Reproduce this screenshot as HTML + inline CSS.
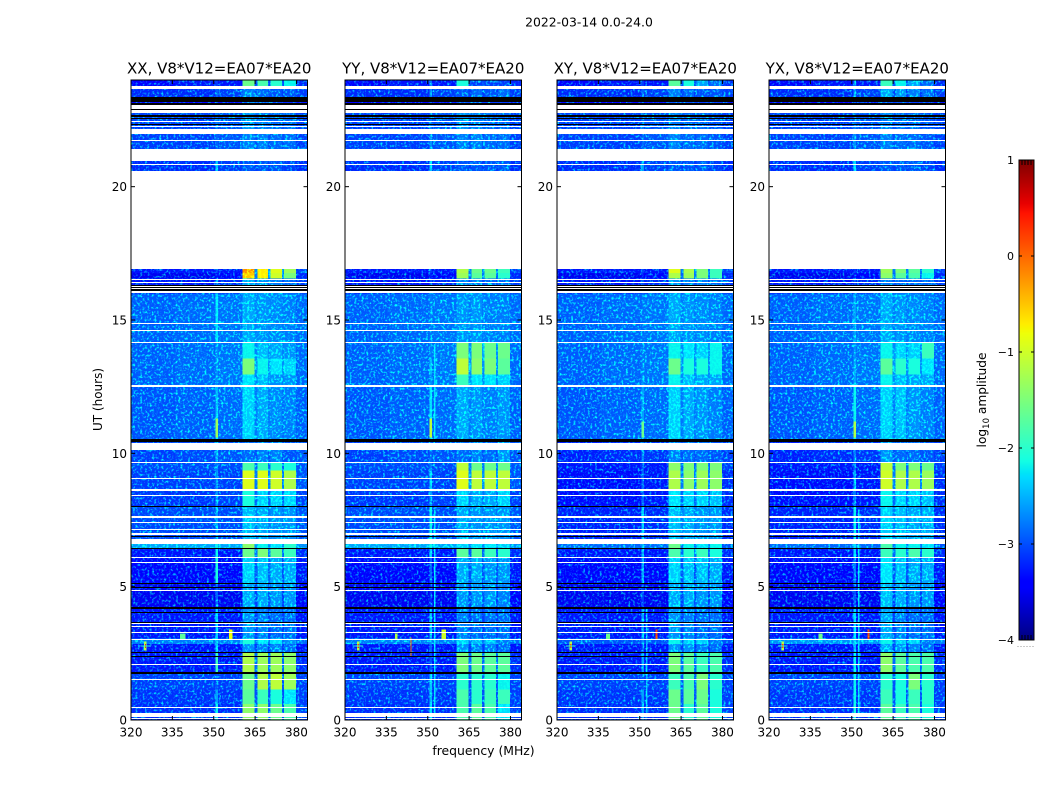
<!DOCTYPE html>
<html lang="en">
<head>
<meta charset="utf-8">
<title>2022-03-14 0.0-24.0</title>
<style>
html,body{margin:0;padding:0;background:#fff;}
svg{display:block;font-family:"DejaVu Sans","Liberation Sans",sans-serif;fill:#000;}
</style>
</head>
<body>
<svg id="figure" width="1050" height="800" viewBox="0 0 1050 800" xmlns="http://www.w3.org/2000/svg">
<defs>
<filter id="speckle" x="0" y="0" width="100%" height="100%" color-interpolation-filters="sRGB">
<feTurbulence type="fractalNoise" baseFrequency="0.42" numOctaves="2" seed="4" result="n"/>
<feColorMatrix in="n" type="matrix" values="0 0 0 0 0  2.4 0 0 0 -1.2  0 0 0 0 0  0 0 0 0 1" result="g"/>
<feComposite in="SourceGraphic" in2="g" operator="arithmetic" k1="0" k2="1" k3="1" k4="0"/>
</filter>
</defs>
<rect x="0" y="0" width="1050" height="800" fill="#fff"/>
<text x="589" y="26.5" font-size="12.4" text-anchor="middle">2022-03-14 0.0-24.0</text>
<text transform="translate(102,399.5) rotate(-90)" font-size="12" text-anchor="middle">UT (hours)</text>
<text x="483.5" y="755" font-size="12.4" text-anchor="middle">frequency (MHz)</text>
<g id="panels"></g>
<g id="colorbar"></g>
<text transform="translate(986,400) rotate(-90)" font-size="12.2" text-anchor="middle">log<tspan font-size="8.5" dy="3">10</tspan><tspan dy="-3"> amplitude</tspan></text>
</svg>
<script>
// ---- chart data ----
const panelNames = ['XX', 'YY', 'XY', 'YX'];
const baselineLabel = 'V8*V12=EA07*EA20';
const xTicks = [320, 335, 350, 365, 380];
const yTicks = [0, 5, 10, 15, 20];
const colorTicks = [-4, -3, -2, -1, 0, 1];
// channel-group edges (MHz)
const chanEdges = [320, 336, 350.6, 351.6, 360.4, 364.7, 365.8, 369.7, 370.5, 374.8, 375.5, 379.8, 384];
// time-block edges (hours)
const timeEdges = [24, 23.72, 23.22, 22.9, 22.05, 21.2, 20.0, 16.76, 16.55, 16.0, 14.15, 13.55, 12.95, 12.5, 10.5, 9.65, 9.35, 8.6, 8.0, 6.79, 6.44, 6.09, 5.12, 4.2, 3.05, 2.85, 2.52, 1.78, 1.15, 0.6, 0];
// log10 amplitude, one row per time block, one value per channel group
const levelsXX = [
[-3.4,-3.3,-3.1,-3.3,-1.6,-3.0,-1.8,-3.0,-2.0,-3.0,-2.2,-3.2],
[-3.2,-3.2,-2.9,-3.1,-2.8,-3.0,-2.9,-3.0,-3.0,-3.1,-3.0,-3.1],
[-3.4,-3.4,-3.0,-3.3,-3.0,-3.1,-3.0,-3.1,-3.1,-3.2,-3.2,-3.3],
[-3.1,-3.1,-2.8,-3.0,-2.7,-2.9,-2.8,-2.9,-2.9,-3.0,-2.9,-3.1],
[-3.1,-3.1,-2.9,-3.0,-2.8,-3.0,-2.8,-3.0,-2.9,-3.0,-2.9,-3.1],
[-3.2,-3.2,-2.4,-3.1,-3.0,-3.1,-3.0,-3.1,-3.0,-3.1,-3.1,-3.2],
[-3.3,-3.3,-3.1,-3.3,-0.2,-2.7,-0.7,-2.6,-0.9,-2.7,-1.3,-3.1],
[-3.5,-3.5,-3.3,-3.4,-0.5,-2.8,-0.7,-2.7,-1.0,-2.8,-1.5,-3.2],
[-3.3,-3.3,-2.9,-3.2,-2.6,-2.9,-2.7,-2.9,-2.8,-3.0,-2.9,-3.1],
[-2.95,-2.9,-2.3,-2.85,-2.6,-2.75,-2.7,-2.75,-2.75,-2.8,-2.8,-2.9],
[-2.95,-2.9,-2.7,-2.85,-2.2,-2.75,-2.5,-2.7,-2.6,-2.75,-2.7,-2.9],
[-2.95,-2.9,-2.7,-2.85,-1.5,-2.7,-2.2,-2.7,-2.3,-2.7,-2.4,-2.9],
[-2.95,-2.9,-2.7,-2.85,-2.3,-2.75,-2.5,-2.7,-2.7,-2.75,-2.7,-2.9],
[-3.0,-2.95,-2.5,-2.9,-2.4,-2.8,-2.6,-2.8,-2.75,-2.85,-2.8,-2.95],
[-3.1,-3.05,-2.6,-3.0,-2.9,-3.0,-2.8,-3.0,-2.8,-3.0,-3.0,-3.0],
[-3.05,-3.05,-2.8,-3.05,-1.8,-2.9,-1.9,-2.9,-2.0,-2.9,-2.1,-3.0],
[-3.1,-3.1,-2.7,-3.1,-0.9,-2.8,-0.9,-2.8,-1.0,-2.8,-1.2,-3.0],
[-3.15,-3.15,-2.7,-3.1,-2.1,-2.9,-2.4,-2.9,-2.4,-2.9,-2.4,-3.1],
[-3.05,-3.05,-2.6,-3.05,-2.5,-2.8,-2.6,-2.8,-2.7,-2.8,-2.7,-3.0],
[-2.6,-2.6,-2.2,-2.6,-1.4,-2.7,-2.2,-2.7,-2.3,-2.7,-2.0,-2.7],
[-3.3,-3.3,-2.2,-3.3,-1.6,-2.9,-1.5,-2.8,-1.7,-2.9,-1.9,-3.2],
[-3.4,-3.4,-2.1,-3.4,-2.4,-3.0,-2.5,-2.9,-2.6,-3.0,-2.6,-3.3],
[-3.5,-3.5,-2.9,-3.5,-2.6,-3.1,-2.6,-3.0,-2.7,-3.1,-2.7,-3.4],
[-3.3,-3.3,-2.4,-3.3,-2.7,-3.1,-2.8,-3.1,-2.9,-3.1,-2.9,-3.3],
[-2.8,-2.8,-2.5,-2.8,-2.1,-2.8,-2.3,-2.8,-2.3,-2.8,-2.7,-2.9],
[-3.3,-3.3,-2.4,-3.3,-2.7,-3.1,-2.8,-3.1,-2.8,-3.1,-2.9,-3.3],
[-3.3,-3.3,-1.9,-3.3,-1.2,-2.9,-1.3,-2.9,-1.3,-2.9,-1.4,-3.2],
[-3.1,-3.1,-3.0,-3.1,-1.6,-3.0,-1.2,-2.9,-1.1,-3.0,-1.3,-3.1],
[-3.15,-3.15,-2.6,-3.15,-1.7,-3.0,-1.9,-3.0,-2.1,-3.0,-2.3,-3.1],
[-3.2,-3.2,-2.2,-3.2,-1.4,-3.0,-1.4,-3.0,-1.6,-3.0,-1.8,-3.1]
];
const levelsYY = [
[-3.4,-3.3,-2.8,-3.3,-2.1,-3.0,-3.1,-3.0,-3.1,-3.1,-3.1,-3.2],
[-3.2,-3.2,-2.7,-3.1,-3.0,-3.1,-2.9,-3.1,-3.0,-3.1,-2.9,-3.1],
[-3.4,-3.4,-2.9,-3.3,-3.0,-3.1,-3.0,-3.1,-3.1,-3.1,-3.1,-3.3],
[-3.1,-3.1,-2.8,-3.0,-2.7,-2.9,-2.8,-2.9,-2.9,-3.0,-2.9,-3.1],
[-3.1,-3.1,-2.7,-3.0,-2.8,-3.0,-2.8,-3.0,-2.9,-3.0,-2.9,-3.1],
[-3.2,-3.2,-2.4,-3.1,-3.0,-3.1,-3.0,-3.1,-3.0,-3.1,-3.0,-3.2],
[-3.3,-3.3,-3.1,-3.3,-1.2,-2.8,-1.6,-2.8,-1.6,-2.8,-1.9,-3.1],
[-3.5,-3.5,-3.3,-3.4,-1.3,-2.9,-1.7,-2.8,-1.7,-2.9,-2.0,-3.2],
[-3.3,-3.3,-3.0,-3.2,-2.8,-3.0,-2.8,-3.0,-2.9,-3.0,-2.9,-3.1],
[-2.95,-2.9,-2.8,-2.85,-2.7,-2.8,-2.7,-2.8,-2.8,-2.8,-2.8,-2.9],
[-2.95,-2.9,-2.8,-2.85,-1.5,-2.7,-1.5,-2.6,-1.6,-2.7,-1.6,-2.9],
[-2.95,-2.9,-2.5,-2.85,-1.1,-2.7,-1.4,-2.7,-1.5,-2.7,-1.7,-2.9],
[-2.95,-2.9,-2.7,-2.85,-1.9,-2.7,-2.3,-2.7,-2.3,-2.7,-2.4,-2.9],
[-3.0,-2.95,-2.3,-2.9,-2.6,-2.8,-2.7,-2.8,-2.8,-2.8,-2.7,-2.95],
[-3.1,-3.05,-2.9,-3.0,-2.9,-3.0,-2.8,-3.0,-2.9,-3.0,-2.7,-3.0],
[-3.05,-3.05,-2.8,-3.05,-1.1,-2.8,-1.6,-2.8,-1.6,-2.8,-1.6,-3.0],
[-3.1,-3.1,-2.4,-3.1,-0.9,-2.7,-1.1,-2.7,-1.1,-2.7,-1.1,-3.0],
[-3.15,-3.15,-2.7,-3.1,-2.4,-2.8,-2.6,-2.8,-2.6,-2.8,-2.4,-3.1],
[-3.05,-3.05,-2.2,-3.05,-2.6,-2.8,-2.7,-2.8,-2.7,-2.8,-2.7,-3.0],
[-2.6,-2.6,-2.2,-2.6,-2.4,-2.7,-2.3,-2.7,-2.3,-2.7,-2.4,-2.7],
[-3.3,-3.3,-2.4,-3.3,-1.7,-3.0,-1.7,-2.9,-1.9,-3.0,-2.0,-3.2],
[-3.4,-3.4,-2.9,-3.4,-2.6,-3.0,-2.6,-3.0,-2.7,-3.0,-2.7,-3.3],
[-3.5,-3.5,-3.2,-3.5,-2.7,-3.1,-2.7,-3.0,-2.7,-3.1,-2.8,-3.4],
[-3.3,-3.3,-2.5,-3.3,-2.8,-3.1,-2.9,-3.1,-2.9,-3.1,-2.9,-3.3],
[-2.8,-2.8,-2.7,-2.8,-2.4,-2.8,-2.5,-2.8,-2.5,-2.8,-2.8,-2.9],
[-3.3,-3.3,-2.9,-3.3,-2.7,-3.1,-2.8,-3.1,-2.8,-3.1,-2.9,-3.3],
[-3.3,-3.3,-3.0,-3.3,-1.5,-2.9,-1.6,-2.9,-1.7,-2.9,-1.7,-3.2],
[-3.1,-3.1,-2.4,-3.1,-2.0,-3.0,-2.0,-2.9,-2.0,-3.0,-2.2,-3.1],
[-3.15,-3.15,-2.5,-3.15,-1.8,-3.0,-2.0,-3.0,-1.9,-3.0,-1.9,-3.1],
[-3.2,-3.2,-2.3,-3.2,-1.8,-3.0,-1.7,-3.0,-1.8,-3.0,-2.3,-3.1]
];
const levelsXY = [
[-3.4,-3.3,-3.1,-3.3,-1.7,-3.0,-2.1,-3.0,-2.6,-3.0,-2.9,-3.2],
[-3.2,-3.2,-2.9,-3.1,-2.8,-3.1,-2.9,-3.1,-3.0,-3.1,-3.0,-3.1],
[-3.4,-3.4,-2.9,-3.3,-3.0,-3.1,-3.0,-3.1,-3.1,-3.1,-3.1,-3.3],
[-3.1,-3.1,-2.8,-3.0,-2.8,-3.0,-2.9,-3.0,-2.9,-3.0,-3.0,-3.1],
[-3.1,-3.1,-2.9,-3.0,-2.8,-3.0,-2.9,-3.0,-2.9,-3.0,-3.0,-3.1],
[-3.2,-3.2,-2.6,-3.1,-3.0,-3.1,-3.0,-3.1,-3.0,-3.1,-3.1,-3.2],
[-3.3,-3.3,-3.1,-3.3,-0.9,-2.8,-1.2,-2.8,-1.5,-2.8,-1.9,-3.1],
[-3.5,-3.5,-3.3,-3.4,-1.2,-2.9,-1.3,-2.8,-1.5,-2.9,-1.9,-3.2],
[-3.3,-3.3,-3.0,-3.2,-2.7,-3.0,-2.8,-3.0,-2.8,-3.0,-2.9,-3.1],
[-2.95,-2.9,-2.85,-2.85,-2.6,-2.8,-2.7,-2.8,-2.75,-2.8,-2.8,-2.9],
[-2.95,-2.9,-2.8,-2.85,-2.2,-2.7,-2.3,-2.7,-2.4,-2.7,-2.2,-2.9],
[-2.95,-2.9,-2.8,-2.85,-1.6,-2.7,-2.1,-2.7,-2.1,-2.7,-2.2,-2.9],
[-2.95,-2.9,-2.7,-2.85,-2.2,-2.7,-2.5,-2.7,-2.6,-2.7,-2.6,-2.9],
[-3.0,-2.95,-2.6,-2.9,-2.4,-2.8,-2.6,-2.8,-2.7,-2.8,-2.8,-2.95],
[-3.25,-3.2,-2.8,-3.15,-2.8,-3.0,-2.9,-3.0,-2.9,-3.0,-3.0,-3.1],
[-3.3,-3.3,-3.0,-3.3,-1.4,-2.9,-1.5,-2.9,-1.5,-2.9,-1.5,-3.1],
[-3.35,-3.35,-2.9,-3.3,-1.2,-2.8,-1.4,-2.8,-1.3,-2.8,-1.4,-3.2],
[-3.35,-3.35,-2.9,-3.3,-2.3,-2.9,-2.4,-2.9,-2.4,-2.9,-2.5,-3.2],
[-3.25,-3.25,-2.4,-3.2,-2.5,-2.8,-2.6,-2.8,-2.7,-2.8,-2.7,-3.2],
[-2.9,-2.9,-2.5,-2.9,-1.6,-2.8,-2.2,-2.8,-2.3,-2.8,-2.2,-3.0],
[-3.3,-3.3,-2.6,-3.3,-1.8,-2.9,-2.0,-2.8,-1.9,-2.9,-2.1,-3.2],
[-3.4,-3.4,-2.6,-3.4,-2.4,-3.0,-2.5,-3.0,-2.5,-3.0,-2.6,-3.3],
[-3.5,-3.5,-3.1,-3.5,-2.6,-3.1,-2.6,-3.0,-2.7,-3.1,-2.7,-3.4],
[-3.3,-3.3,-2.6,-3.3,-2.7,-3.1,-2.8,-3.1,-2.9,-3.1,-2.9,-3.3],
[-3.0,-3.0,-2.7,-3.0,-2.2,-2.9,-2.4,-2.9,-2.4,-2.9,-2.8,-3.0],
[-3.3,-3.3,-3.0,-3.3,-2.7,-3.1,-2.7,-3.1,-2.8,-3.1,-2.9,-3.3],
[-3.3,-3.3,-2.6,-3.3,-1.5,-2.9,-1.7,-2.9,-1.9,-2.9,-1.8,-3.2],
[-3.1,-3.1,-3.0,-3.1,-1.9,-3.0,-1.8,-2.9,-1.5,-3.0,-2.0,-3.1],
[-3.15,-3.15,-2.6,-3.15,-1.6,-3.0,-1.7,-3.0,-1.6,-3.0,-2.1,-3.1],
[-3.2,-3.2,-2.6,-3.2,-1.6,-3.0,-2.0,-3.0,-1.7,-3.0,-2.1,-3.1]
];
const levelsYX = [
[-3.4,-3.3,-2.8,-3.3,-1.9,-3.0,-2.2,-3.0,-2.6,-3.0,-2.9,-3.2],
[-3.2,-3.2,-2.7,-3.1,-2.6,-3.1,-2.7,-3.1,-2.8,-3.1,-2.9,-3.1],
[-3.4,-3.4,-2.9,-3.3,-3.0,-3.1,-3.0,-3.1,-3.1,-3.1,-3.1,-3.3],
[-3.1,-3.1,-2.8,-3.0,-2.8,-3.0,-2.9,-3.0,-2.9,-3.0,-3.0,-3.1],
[-3.1,-3.1,-2.7,-3.0,-2.8,-3.0,-2.9,-3.0,-2.9,-3.0,-3.0,-3.1],
[-3.2,-3.2,-2.3,-3.1,-3.0,-3.1,-3.0,-3.1,-3.0,-3.1,-3.1,-3.2],
[-3.3,-3.3,-3.1,-3.3,-1.3,-2.8,-1.5,-2.8,-1.7,-2.8,-2.0,-3.1],
[-3.5,-3.5,-3.3,-3.4,-1.4,-2.9,-1.7,-2.8,-1.8,-2.9,-2.2,-3.2],
[-3.3,-3.3,-3.0,-3.2,-2.8,-3.0,-2.9,-3.0,-2.9,-3.0,-2.9,-3.1],
[-2.95,-2.9,-2.6,-2.85,-2.6,-2.8,-2.7,-2.8,-2.75,-2.8,-2.8,-2.9],
[-2.95,-2.9,-2.7,-2.85,-2.2,-2.7,-2.4,-2.7,-2.4,-2.7,-1.9,-2.9],
[-2.95,-2.9,-2.6,-2.85,-1.7,-2.7,-2.0,-2.7,-2.1,-2.7,-2.3,-2.9],
[-2.95,-2.9,-2.6,-2.85,-2.2,-2.7,-2.5,-2.7,-2.6,-2.7,-2.6,-2.9],
[-3.0,-2.95,-2.2,-2.9,-2.4,-2.8,-2.5,-2.8,-2.7,-2.8,-2.8,-2.95],
[-3.25,-3.2,-2.8,-3.15,-2.7,-3.0,-2.9,-3.0,-2.9,-3.0,-3.0,-3.1],
[-3.3,-3.3,-2.9,-3.3,-1.1,-2.9,-1.5,-2.9,-1.5,-2.9,-1.6,-3.1],
[-3.35,-3.35,-2.6,-3.3,-1.0,-2.8,-1.2,-2.8,-1.2,-2.8,-1.3,-3.2],
[-3.35,-3.35,-2.8,-3.3,-2.2,-2.9,-2.4,-2.9,-2.4,-2.9,-2.5,-3.2],
[-3.25,-3.25,-2.2,-3.2,-2.4,-2.8,-2.5,-2.8,-2.6,-2.8,-2.6,-3.2],
[-2.9,-2.9,-2.3,-2.9,-1.8,-2.8,-2.2,-2.8,-2.2,-2.8,-2.3,-3.0],
[-3.3,-3.3,-2.3,-3.3,-1.9,-2.9,-2.0,-2.8,-1.8,-2.9,-2.0,-3.2],
[-3.4,-3.4,-2.8,-3.4,-2.3,-3.0,-2.5,-3.0,-2.6,-3.0,-2.6,-3.3],
[-3.5,-3.5,-3.0,-3.5,-2.5,-3.1,-2.6,-3.0,-2.7,-3.1,-2.7,-3.4],
[-3.3,-3.3,-2.3,-3.3,-2.6,-3.1,-2.8,-3.1,-2.9,-3.1,-2.9,-3.3],
[-2.7,-2.7,-2.4,-2.7,-2.2,-2.9,-2.4,-2.9,-2.4,-2.9,-2.8,-2.8],
[-3.3,-3.3,-2.5,-3.3,-2.6,-3.1,-2.7,-3.1,-2.8,-3.1,-2.9,-3.3],
[-3.3,-3.3,-2.2,-3.3,-1.4,-2.9,-1.7,-2.9,-1.8,-2.9,-1.8,-3.2],
[-3.1,-3.1,-2.2,-3.1,-2.0,-3.0,-2.1,-2.9,-1.5,-3.0,-2.0,-3.1],
[-3.15,-3.15,-2.2,-3.15,-1.9,-3.0,-2.1,-3.0,-1.9,-3.0,-2.0,-3.1],
[-3.2,-3.2,-2.1,-3.2,-1.7,-3.0,-1.9,-3.0,-1.8,-3.0,-2.1,-3.1]
];
const panelLevels = [levelsXX, levelsYY, levelsXY, levelsYX];
// narrow interference features: [fStart, fEnd, tTop, tBottom, log10 amplitude]
const featuresXX = [[324.7,325.7,2.95,2.6,-1.2],[325,325.4,2.85,2.7,0.3],[323.5,327,2.79,2.75,-2],[337.7,339.8,3.25,3.03,-1.7],[355.6,356.8,3.4,3.03,-0.8],[350.6,351.6,11.3,10.6,-1.3]];
const featuresYY = [[324.3,325.3,2.95,2.6,-1.2],[324.6,325,2.85,2.7,0.3],[323,326.5,2.79,2.75,-2],[338.1,339,3.25,3.03,-1.2],[343.8,344.2,3.1,2.4,0],[355,356.6,3.4,3.03,-1],[350.6,351.6,11.3,10.6,-1.1],[352.2,352.8,14.1,10.5,-2.3],[352.2,352.8,7.9,0.1,-2.3]];
const featuresXY = [[324.5,325.5,2.95,2.6,-1.2],[324.8,325.2,2.85,2.7,0.3],[323.2,326.7,2.79,2.75,-2],[337.8,339.2,3.25,3.03,-1.6],[355.8,356.5,3.4,3.03,0.2],[350.6,351.6,11.2,10.6,-1.6],[352.2,352.8,4.2,0.1,-2.5]];
const featuresYX = [[324.5,325.5,2.95,2.6,-1.2],[324.8,325.2,2.85,2.7,0.3],[323.2,326.7,2.79,2.75,-2],[338,339.4,3.25,3.03,-1.6],[355.8,356.5,3.4,3.03,0.2],[350.6,351.6,11.2,10.6,-1.2],[352.2,352.8,7.9,0.1,-2.3]];
const panelFeatures = [featuresXX, featuresYY, featuresXY, featuresYX];
// flagged (blank) time ranges, [top hour, bottom hour]
const blankRanges = [[23.786,23.651],[23.051,22.905],[22.875,22.763],[22.474,22.451],[22.275,22.249],[22.151,21.975],[21.75,21.701],[21.413,20.963],[20.85,20.813],[20.599,16.901],[16.549,16.5],[16.436,16.376],[16.275,16.238],[16.2,16.163],[16.088,16.013],[14.888,14.85],[14.625,14.588],[14.175,14.138],[12.581,12.551],[12.533,12.506],[10.399,10.125],[9.683,9.645],[9.083,9.045],[8.651,8.599],[8.445,8.408],[7.661,7.586],[7.433,7.395],[7.17,7.133],[6.994,6.956],[6.788,6.6],[6.113,6.075],[5.914,5.876],[4.886,4.849],[3.638,3.6],[3.51,3.473],[3.3,3.263],[3.038,3.0],[2.1,2.063],[1.538,1.5],[0.491,0.454],[0.255,0.128],[0.09,0.06]];
// zero-amplitude time ranges, [top hour, bottom hour]
const zeroRanges = [[23.374,23.224],[23.216,23.194],[23.156,23.138],[23.1,23.078],[22.905,22.875],[22.676,22.624],[22.564,22.526],[22.35,22.324],[16.324,16.275],[16.238,16.2],[16.144,16.106],[10.538,10.436],[8.033,7.995],[6.9,6.851],[6.458,6.42],[5.138,5.1],[4.988,4.95],[4.238,4.163],[4.05,4.013],[3.668,3.638],[3.533,3.51],[2.539,2.501],[2.389,2.351],[1.8,1.725]];

// ---- layout ----
const panelLeft = [131, 345, 557, 769];
const panelWidth = 176.5;
const plotTop = 80, plotBottom = 720;
const cbLeft = 1019, cbRight = 1034, cbTop = 160, cbBottom = 640;
const SVGNS = 'http://www.w3.org/2000/svg';

function make(tag, parent) {
  const el = document.createElementNS(SVGNS, tag);
  parent.appendChild(el);
  return el;
}
function interp(pts, x) {
  for (let i = 1; i < pts.length; i++) {
    if (x <= pts[i][0]) {
      const a = pts[i - 1], b = pts[i];
      return a[1] + (b[1] - a[1]) * (x - a[0]) / (b[0] - a[0]);
    }
  }
  return pts[pts.length - 1][1];
}
function jet(v) {
  const n = Math.max(0, Math.min(1, (v + 4) / 5));
  const r = interp([[0,0],[0.35,0],[0.66,1],[0.89,1],[1,0.5]], n);
  const g = interp([[0,0],[0.125,0],[0.375,1],[0.64,1],[0.91,0],[1,0]], n);
  const b = interp([[0,0.5],[0.11,1],[0.34,1],[0.65,0],[1,0]], n);
  return 'rgb(' + Math.round(r * 255) + ',' + Math.round(g * 255) + ',' + Math.round(b * 255) + ')';
}
function yScale(t) { return plotBottom - (t / 24) * (plotBottom - plotTop); }
function xScale(p, f) { return panelLeft[p] + ((f - 320) / 64) * panelWidth; }
function cbScale(v) { return cbBottom - ((v + 4) / 5) * (cbBottom - cbTop); }
function snapTop(t) { return Math.round(yScale(t)); }
function snapHeight(range) { return Math.max(1, Math.round(yScale(range[1])) - Math.round(yScale(range[0]))); }

const panelsRoot = document.getElementById('panels');
panelNames.forEach(function (pol, p) {
  const g = make('g', panelsRoot);
  
  

  const heat = make('g', g);
  
  
  heat.setAttribute('filter', 'url(#speckle)');
  heat.setAttribute('shape-rendering', 'crispEdges');
  panelLevels[p].forEach(function (row, r) {
    row.forEach(function (val, c) {
      const cell = make('rect', heat);
      
      
      const x0 = xScale(p, chanEdges[c]), x1 = xScale(p, chanEdges[c + 1]);
      const y0 = yScale(timeEdges[r]), y1 = yScale(timeEdges[r + 1]);
      cell.setAttribute('x', x0.toFixed(2));
      cell.setAttribute('y', y0.toFixed(2));
      cell.setAttribute('width', (x1 - x0 + 0.5).toFixed(2));
      cell.setAttribute('height', (y1 - y0 + 0.5).toFixed(2));
      cell.setAttribute('fill', jet(val));
    });
  });
  panelFeatures[p].forEach(function (ft) {
    const mark = make('rect', heat);
    
    
    mark.setAttribute('x', xScale(p, ft[0]).toFixed(2));
    mark.setAttribute('y', yScale(ft[2]).toFixed(2));
    mark.setAttribute('width', (xScale(p, ft[1]) - xScale(p, ft[0])).toFixed(2));
    mark.setAttribute('height', (yScale(ft[3]) - yScale(ft[2])).toFixed(2));
    mark.setAttribute('fill', jet(ft[4]));
  });
  zeroRanges.forEach(function (rg) {
    const line = make('rect', g);
    
    
    line.setAttribute('shape-rendering', 'crispEdges');
    line.setAttribute('x', panelLeft[p]);
    line.setAttribute('y', snapTop(rg[0]));
    line.setAttribute('width', panelWidth);
    line.setAttribute('height', snapHeight(rg));
    line.setAttribute('fill', '#000');
  });
  blankRanges.forEach(function (rg) {
    const line = make('rect', g);
    
    
    line.setAttribute('shape-rendering', 'crispEdges');
    line.setAttribute('x', panelLeft[p]);
    line.setAttribute('y', snapTop(rg[0]));
    line.setAttribute('width', panelWidth);
    line.setAttribute('height', snapHeight(rg));
    line.setAttribute('fill', '#fff');
  });

  const frame = make('rect', g);
  
  
  frame.setAttribute('x', panelLeft[p]);
  frame.setAttribute('y', plotTop);
  frame.setAttribute('width', panelWidth);
  frame.setAttribute('height', plotBottom - plotTop);
  frame.setAttribute('fill', 'none');
  frame.setAttribute('stroke', '#000');
  frame.setAttribute('stroke-width', '1');

  xTicks.forEach(function (f) {
    const x = xScale(p, f);
    [[plotBottom, plotBottom - 4], [plotTop, plotTop + 4]].forEach(function (ends) {
      const tick = make('line', g);
      
      
      tick.setAttribute('x1', x);
      tick.setAttribute('x2', x);
      tick.setAttribute('y1', ends[0]);
      tick.setAttribute('y2', ends[1]);
      tick.setAttribute('stroke', '#000');
    });
    const label = make('text', g);
    
    
    label.setAttribute('x', x);
    label.setAttribute('y', 736.5);
    label.setAttribute('font-size', '12');
    label.setAttribute('text-anchor', 'middle');
    label.textContent = String(f);
  });
  yTicks.forEach(function (t) {
    const y = yScale(t);
    [[panelLeft[p], panelLeft[p] + 4], [panelLeft[p] + panelWidth, panelLeft[p] + panelWidth - 4]].forEach(function (ends) {
      const tick = make('line', g);
      
      
      tick.setAttribute('x1', ends[0]);
      tick.setAttribute('x2', ends[1]);
      tick.setAttribute('y1', y);
      tick.setAttribute('y2', y);
      tick.setAttribute('stroke', '#000');
    });
    const label = make('text', g);
    
    
    label.setAttribute('x', panelLeft[p] - 4);
    label.setAttribute('y', y + 4.5);
    label.setAttribute('font-size', '12');
    label.setAttribute('text-anchor', 'end');
    label.textContent = String(t);
  });
  const title = make('text', g);
  
  
  title.setAttribute('x', panelLeft[p] + panelWidth / 2);
  title.setAttribute('y', 73.5);
  title.setAttribute('font-size', '15');
  title.setAttribute('text-anchor', 'middle');
  title.textContent = pol + ', ' + baselineLabel;
});

// colorbar
const cb = document.getElementById('colorbar');
for (let i = 0; i < 240; i++) {
  const lo = -4 + (i / 240) * 5, hi = -4 + ((i + 1) / 240) * 5;
  const seg = make('rect', cb);
  
  
  seg.setAttribute('x', cbLeft);
  seg.setAttribute('y', cbScale(hi));
  seg.setAttribute('width', cbRight - cbLeft);
  seg.setAttribute('height', cbScale(lo) - cbScale(hi) + 0.5);
  seg.setAttribute('fill', jet((lo + hi) / 2));
  seg.setAttribute('shape-rendering', 'crispEdges');
}
const cbFrame = make('rect', cb);


cbFrame.setAttribute('x', cbLeft);
cbFrame.setAttribute('y', cbTop);
cbFrame.setAttribute('width', cbRight - cbLeft);
cbFrame.setAttribute('height', cbBottom - cbTop);
cbFrame.setAttribute('fill', 'none');
cbFrame.setAttribute('stroke', '#000');
colorTicks.forEach(function (v) {
  const label = make('text', cb);
  
  
  label.setAttribute('x', cbLeft - 5);
  label.setAttribute('y', cbScale(v) + 4);
  label.setAttribute('font-size', '11');
  label.setAttribute('text-anchor', 'end');
  label.textContent = String(v).replace('-', '\u2212');
  [[cbLeft, cbLeft + 3], [cbRight, cbRight - 3]].forEach(function (ends) {
    const tick = make('line', cb);
    
    
    tick.setAttribute('x1', ends[0]);
    tick.setAttribute('x2', ends[1]);
    tick.setAttribute('y1', cbScale(v));
    tick.setAttribute('y2', cbScale(v));
    tick.setAttribute('stroke', '#000');
  });
});
for (let i = 1; i < 5; i++) {
  const x = cbLeft + i * 3;
  const top = make('line', cb);
  
  
  top.setAttribute('x1', x);
  top.setAttribute('x2', x);
  top.setAttribute('y1', cbTop);
  top.setAttribute('y2', cbTop + 5);
  top.setAttribute('stroke', '#000');
  const bottom = make('line', cb);
  
  
  bottom.setAttribute('x1', x);
  bottom.setAttribute('x2', x);
  bottom.setAttribute('y1', cbBottom);
  bottom.setAttribute('y2', cbBottom - 5);
  bottom.setAttribute('stroke', '#000');
}
for (let i = 0; i < 6; i++) {
  const dot = make('rect', cb);
  
  
  dot.setAttribute('x', cbLeft - 1.5 + i * 3);
  dot.setAttribute('y', 646);
  dot.setAttribute('width', 1);
  dot.setAttribute('height', 1);
  dot.setAttribute('fill', '#999');
}
</script>
</body>
</html>
